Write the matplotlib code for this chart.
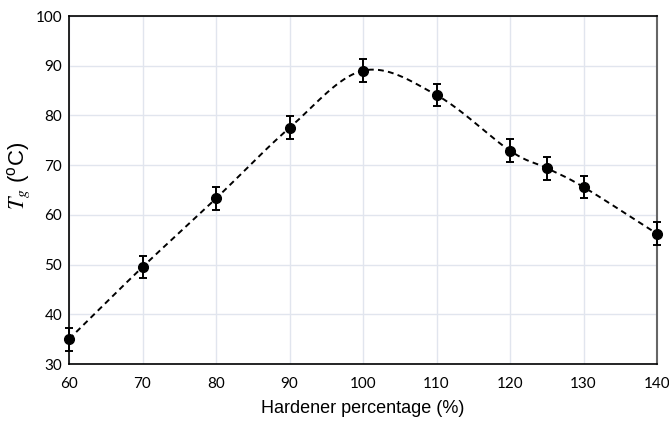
import numpy as np
import matplotlib
matplotlib.use('Agg')
import matplotlib.pyplot as plt

plt.rcParams['font.family'] = ['Lato', 'DejaVu Sans']
plt.rcParams['mathtext.fontset'] = 'stix'

hardener = [60, 70, 80, 90, 100, 110, 120, 125, 130, 140]
tg = [35.0, 49.5, 63.3, 77.5, 89.0, 84.1, 72.9, 69.4, 65.6, 56.2]
tg_err = [2.3, 2.3, 2.3, 2.3, 2.3, 2.3, 2.3, 2.3, 2.3, 2.3]


def smooth_curve(x, y, n=40):
    # catmull-rom through the points, like excel's smoothed line
    x = np.asarray(x, float)
    y = np.asarray(y, float)
    px = np.concatenate([[2*x[0]-x[1]], x, [2*x[-1]-x[-2]]])
    py = np.concatenate([[2*y[0]-y[1]], y, [2*y[-1]-y[-2]]])
    xs, ys = [], []
    t = np.linspace(0, 1, n)
    for i in range(1, len(px)-2):
        for p, out in ((px, xs), (py, ys)):
            p0, p1, p2, p3 = p[i-1], p[i], p[i+1], p[i+2]
            out.extend(0.5*((2*p1) + (-p0+p2)*t + (2*p0-5*p1+4*p2-p3)*t**2
                            + (-p0+3*p1-3*p2+p3)*t**3))
    return np.array(xs), np.array(ys)


fig = plt.figure(figsize=(6.69, 4.21), dpi=100)
ax = fig.add_axes([69/669, 1-364/421, (657-69)/669, (364-16)/421])

cx, cy = smooth_curve(hardener, tg)
ax.plot(cx, cy, color='black', lw=1.4, ls=(0, (3, 2.2)), zorder=3)
ax.errorbar(hardener, tg, yerr=tg_err, fmt='o', color='black', ms=7,
            elinewidth=1.4, capsize=3, capthick=1.4, zorder=4, clip_on=False)

ax.set_xlim(60, 140)
ax.set_ylim(30, 100)
ax.set_xticks(range(60, 141, 10))
ax.set_yticks(range(30, 101, 10))
ax.grid(True, color='#e1e5ee', lw=1)
ax.set_axisbelow(True)
ax.tick_params(length=0, labelsize=11)
ax.tick_params(axis='y', pad=5)
ax.tick_params(axis='x', pad=9)
for s in ['left', 'bottom', 'top']:
    ax.spines[s].set_color('black')
    ax.spines[s].set_linewidth(1.2)
ax.spines['right'].set_color('#666666')
ax.spines['right'].set_linewidth(1.5)

ax.set_xlabel('Hardener percentage (%)', fontsize=13, labelpad=7,
              family='Liberation Sans')
ax.set_ylabel(r'$T_g$ ($\mathregular{^o}$C)', fontsize=16, labelpad=2,
              family='Liberation Sans')
ax.yaxis.set_label_coords(-0.062, 0.54)

plt.savefig('out.png', dpi=100)
plt.close()
